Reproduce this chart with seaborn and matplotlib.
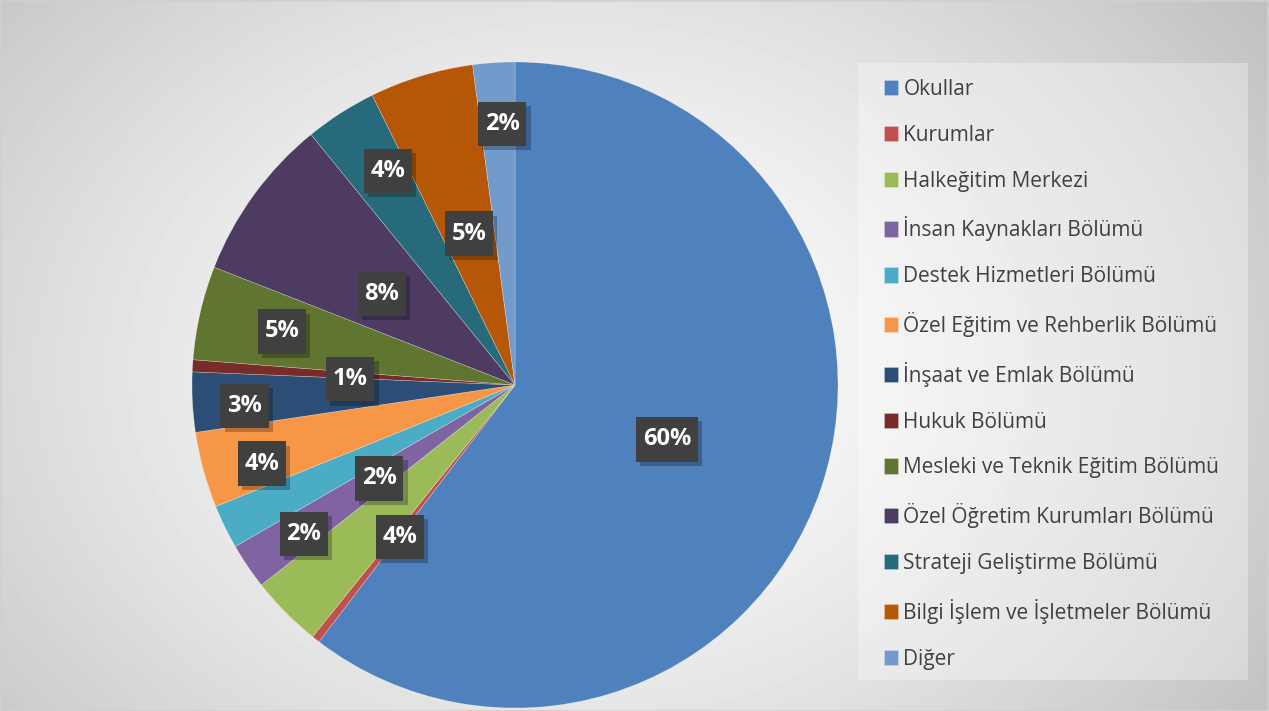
import numpy as np
import matplotlib.pyplot as plt
import seaborn as sns
from matplotlib import patheffects
from matplotlib.patches import Rectangle
from matplotlib.path import Path

names = ["Okullar", "Kurumlar", "Halkeğitim Merkezi", "İnsan Kaynakları Bölümü",
         "Destek Hizmetleri Bölümü", "Özel Eğitim ve Rehberlik Bölümü",
         "İnşaat ve Emlak Bölümü", "Hukuk Bölümü", "Mesleki ve Teknik Eğitim Bölümü",
         "Özel Öğretim Kurumları Bölümü", "Strateji Geliştirme Bölümü",
         "Bilgi İşlem ve İşletmeler Bölümü", "Diğer"]
shares = [60.5, 0.4, 3.6, 2.3, 2.2, 3.8, 3.0, 0.6, 4.7, 8.2, 3.6, 5.2, 2.1]

colors = ["#4F81BD", "#C0504D", "#9BBB59", "#8064A2", "#4BACC6", "#F79646",
          "#2C4D75", "#772C2A", "#5F7530", "#4D3B62", "#276A7C", "#B65708", "#729ACA"]
# percent label placement: radius (fraction of R) and angle nudge (deg)
label_r = [0.5, 0.5, 0.59, 0.8, 0.51, 0.82, 0.84, 0.51, 0.74, 0.5, 0.77, 0.49, 0.81]
label_nudge = [-1, 0, 8, 1, 8.5, 2, 1.4, 1.4, 0, 1.7, -2, 0, -1]


def tag_box(x0, y0, width, height, mutation_size):
    # rectangle with more vertical than horizontal padding
    px, py = 0.28 * mutation_size, 0.43 * mutation_size
    return Path([(x0 - px, y0 - py), (x0 + width + px, y0 - py),
                 (x0 + width + px, y0 + height + py), (x0 - px, y0 + height + py),
                 (x0 - px, y0 - py)], closed=True)


sns.set_theme(style="white")
plt.rcParams['font.family'] = ['Open Sans', 'DejaVu Sans']

W, H = 1269, 711
fig = plt.figure(figsize=(W / 100, H / 100), dpi=100)

# chart area background: soft radial gradient
bg = fig.add_axes([0, 0, 1, 1], zorder=-10)
yy, xx = np.mgrid[0:H, 0:W]
d = np.hypot(xx - 580, (yy - 370) * 1.3)
d = d / d.max()
shade = 1 - 0.25 * d ** 1.4
bg.imshow(shade, cmap="gray", vmin=0, vmax=1, extent=[0, W, H, 0], aspect="auto")
bg.axis("off")
fig.patches.append(Rectangle((0.5 / W, 0.5 / H), 1 - 1.5 / W, 1 - 1.5 / H, transform=fig.transFigure,
                             fill=False, edgecolor="#d0d0d0", linewidth=1.2))

# legend panel
fig.patches.append(Rectangle((858 / W, 1 - 680 / H), 390 / W, 617 / H, transform=fig.transFigure,
                             facecolor="white", alpha=0.32, edgecolor="none", zorder=0))

cx, cy, R = 515, 385, 323
ax = fig.add_axes([(cx - R) / W, (H - cy - R) / H, 2 * R / W, 2 * R / H])
wedges, _ = ax.pie(shares, colors=colors, startangle=90, counterclock=False, radius=1,
                   wedgeprops=dict(linewidth=0.4, edgecolor=(1, 1, 1, 0.4)))
ax.set_xlim(-1, 1)
ax.set_ylim(-1, 1)
ax.set_facecolor("none")

total = sum(shares)
for w, s, r, nd in zip(wedges, shares, label_r, label_nudge):
    p = int(np.floor(100 * s / total + 0.5))
    if p == 0:
        continue
    a = np.deg2rad((w.theta1 + w.theta2) / 2 + nd)
    t = ax.text(r * np.cos(a), r * np.sin(a), f"{p}%", ha="center", va="center",
                color="white", fontsize=17, fontweight="bold",
                bbox=dict(boxstyle=tag_box, facecolor="#404040", edgecolor="none", linewidth=0))
    t.get_bbox_patch().set_path_effects([
        patheffects.withSimplePatchShadow(offset=(3, -3), shadow_rgbFace="black", alpha=0.25),
        patheffects.Normal()])

fig.legend(wedges, names, loc="upper left", bbox_to_anchor=(884 / W, 1 - 79 / H),
           frameon=False, fontsize=15, labelcolor="#404040",
           handlelength=0.67, handleheight=0.75, handletextpad=0.26,
           labelspacing=1.19, borderaxespad=0, borderpad=0)

fig.savefig("out.png", dpi=100)
